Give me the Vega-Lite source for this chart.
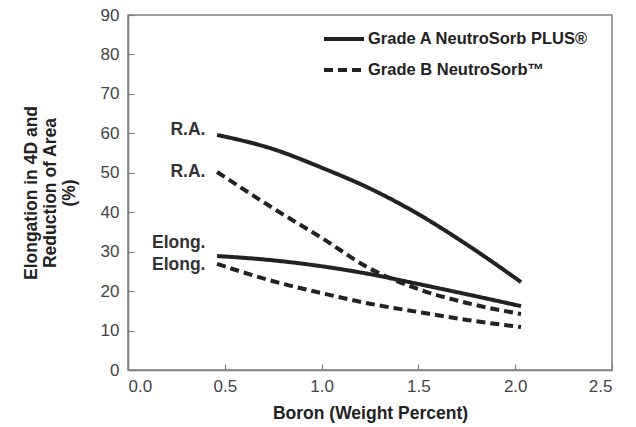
{
  "$schema": "https://vega.github.io/schema/vega-lite/v6.json",
  "width": 484,
  "height": 355,
  "autosize": {"type": "none"},
  "padding": {"left": 128, "top": 15, "right": 24, "bottom": 57},
  "background": "white",
  "config": {
    "view": {"stroke": "#808080", "strokeWidth": 1.5},
    "font": "Liberation Sans",
    "axis": {
      "grid": false,
      "domainColor": "#808080",
      "domainWidth": 1.5,
      "tickColor": "#808080",
      "tickWidth": 1.2,
      "tickSize": -6,
      "labelOverlap": false,
      "labelFont": "Liberation Sans",
      "labelFontSize": 17,
      "labelColor": "#444",
      "titleFont": "Liberation Sans",
      "titleFontSize": 17.5,
      "titleFontWeight": "bold",
      "titleColor": "#222"
    }
  },
  "datasets": {
    "curves": [
      {"boron": 0.46, "value": 59.6, "grade": "Grade A NeutroSorb PLUS®", "prop": "RA"},
      {"boron": 0.75, "value": 56.0, "grade": "Grade A NeutroSorb PLUS®", "prop": "RA"},
      {"boron": 1.0, "value": 51.3, "grade": "Grade A NeutroSorb PLUS®", "prop": "RA"},
      {"boron": 1.25, "value": 46.0, "grade": "Grade A NeutroSorb PLUS®", "prop": "RA"},
      {"boron": 1.5, "value": 39.5, "grade": "Grade A NeutroSorb PLUS®", "prop": "RA"},
      {"boron": 1.75, "value": 31.8, "grade": "Grade A NeutroSorb PLUS®", "prop": "RA"},
      {"boron": 2.03, "value": 22.3, "grade": "Grade A NeutroSorb PLUS®", "prop": "RA"},
      {"boron": 0.46, "value": 28.9, "grade": "Grade A NeutroSorb PLUS®", "prop": "Elong"},
      {"boron": 0.75, "value": 27.8, "grade": "Grade A NeutroSorb PLUS®", "prop": "Elong"},
      {"boron": 1.0, "value": 26.3, "grade": "Grade A NeutroSorb PLUS®", "prop": "Elong"},
      {"boron": 1.25, "value": 24.3, "grade": "Grade A NeutroSorb PLUS®", "prop": "Elong"},
      {"boron": 1.5, "value": 21.8, "grade": "Grade A NeutroSorb PLUS®", "prop": "Elong"},
      {"boron": 1.75, "value": 19.2, "grade": "Grade A NeutroSorb PLUS®", "prop": "Elong"},
      {"boron": 2.03, "value": 16.2, "grade": "Grade A NeutroSorb PLUS®", "prop": "Elong"},
      {"boron": 0.46, "value": 50.2, "grade": "Grade B NeutroSorb™", "prop": "RA"},
      {"boron": 0.75, "value": 41.0, "grade": "Grade B NeutroSorb™", "prop": "RA"},
      {"boron": 1.0, "value": 33.5, "grade": "Grade B NeutroSorb™", "prop": "RA"},
      {"boron": 1.25, "value": 25.7, "grade": "Grade B NeutroSorb™", "prop": "RA"},
      {"boron": 1.5, "value": 20.5, "grade": "Grade B NeutroSorb™", "prop": "RA"},
      {"boron": 1.75, "value": 17.0, "grade": "Grade B NeutroSorb™", "prop": "RA"},
      {"boron": 2.03, "value": 14.2, "grade": "Grade B NeutroSorb™", "prop": "RA"},
      {"boron": 0.46, "value": 26.9, "grade": "Grade B NeutroSorb™", "prop": "Elong"},
      {"boron": 0.75, "value": 22.5, "grade": "Grade B NeutroSorb™", "prop": "Elong"},
      {"boron": 1.0, "value": 19.5, "grade": "Grade B NeutroSorb™", "prop": "Elong"},
      {"boron": 1.25, "value": 16.8, "grade": "Grade B NeutroSorb™", "prop": "Elong"},
      {"boron": 1.5, "value": 14.7, "grade": "Grade B NeutroSorb™", "prop": "Elong"},
      {"boron": 1.75, "value": 12.7, "grade": "Grade B NeutroSorb™", "prop": "Elong"},
      {"boron": 2.03, "value": 10.9, "grade": "Grade B NeutroSorb™", "prop": "Elong"}
    ],
    "labels": [
      {"boron": 0.4, "value": 60.9, "label": "R.A."},
      {"boron": 0.4, "value": 50.2, "label": "R.A."},
      {"boron": 0.4, "value": 32.2, "label": "Elong."},
      {"boron": 0.4, "value": 26.6, "label": "Elong."}
    ]
  },
  "encoding": {
    "x": {
      "field": "boron", "type": "quantitative",
      "scale": {"domain": [0, 2.5], "nice": false},
      "axis": {"values": [0, 0.5, 1, 1.5, 2, 2.5], "format": ".1f", "labelOverlap": false, "title": "Boron (Weight Percent)", "labelPadding": 14, "titlePadding": 10}
    },
    "y": {
      "field": "value", "type": "quantitative",
      "scale": {"domain": [0, 90], "nice": false},
      "axis": {"values": [0, 10, 20, 30, 40, 50, 60, 70, 80, 90], "labelOverlap": false, "title": ["Elongation in 4D and", "Reduction of Area", "(%)"], "titleLineHeight": 19, "labelPadding": 15, "titlePadding": 22}
    }
  },
  "layer": [
    {
      "data": {"name": "curves"},
      "mark": {"type": "line", "interpolate": "monotone", "strokeWidth": 4, "color": "#222", "strokeCap": "butt"},
      "encoding": {
        "strokeDash": {
          "field": "grade", "type": "nominal",
          "scale": {"domain": ["Grade A NeutroSorb PLUS®", "Grade B NeutroSorb™"], "range": [[1, 0], [9, 5]]},
          "legend": {
            "title": null,
            "orient": "none",
            "legendX": 194,
            "legendY": 2,
            "symbolType": "stroke",
            "symbolSize": 1600,
            "symbolStrokeWidth": 4,
            "symbolStrokeColor": "#222",
            "labelFont": "Liberation Sans",
            "labelFontSize": 16.5,
            "labelFontWeight": "bold",
            "labelColor": "#222",
            "labelOffset": 2,
            "rowPadding": -12,
            "labelLimit": 400
          }
        },
        "detail": {"field": "prop", "type": "nominal"}
      }
    },
    {
      "data": {"name": "labels"},
      "mark": {"type": "text", "align": "right", "baseline": "middle", "font": "Liberation Sans", "fontSize": 17.5, "fontWeight": "bold", "color": "#333"},
      "encoding": {
        "text": {"field": "label", "type": "nominal"}
      }
    }
  ]
}
